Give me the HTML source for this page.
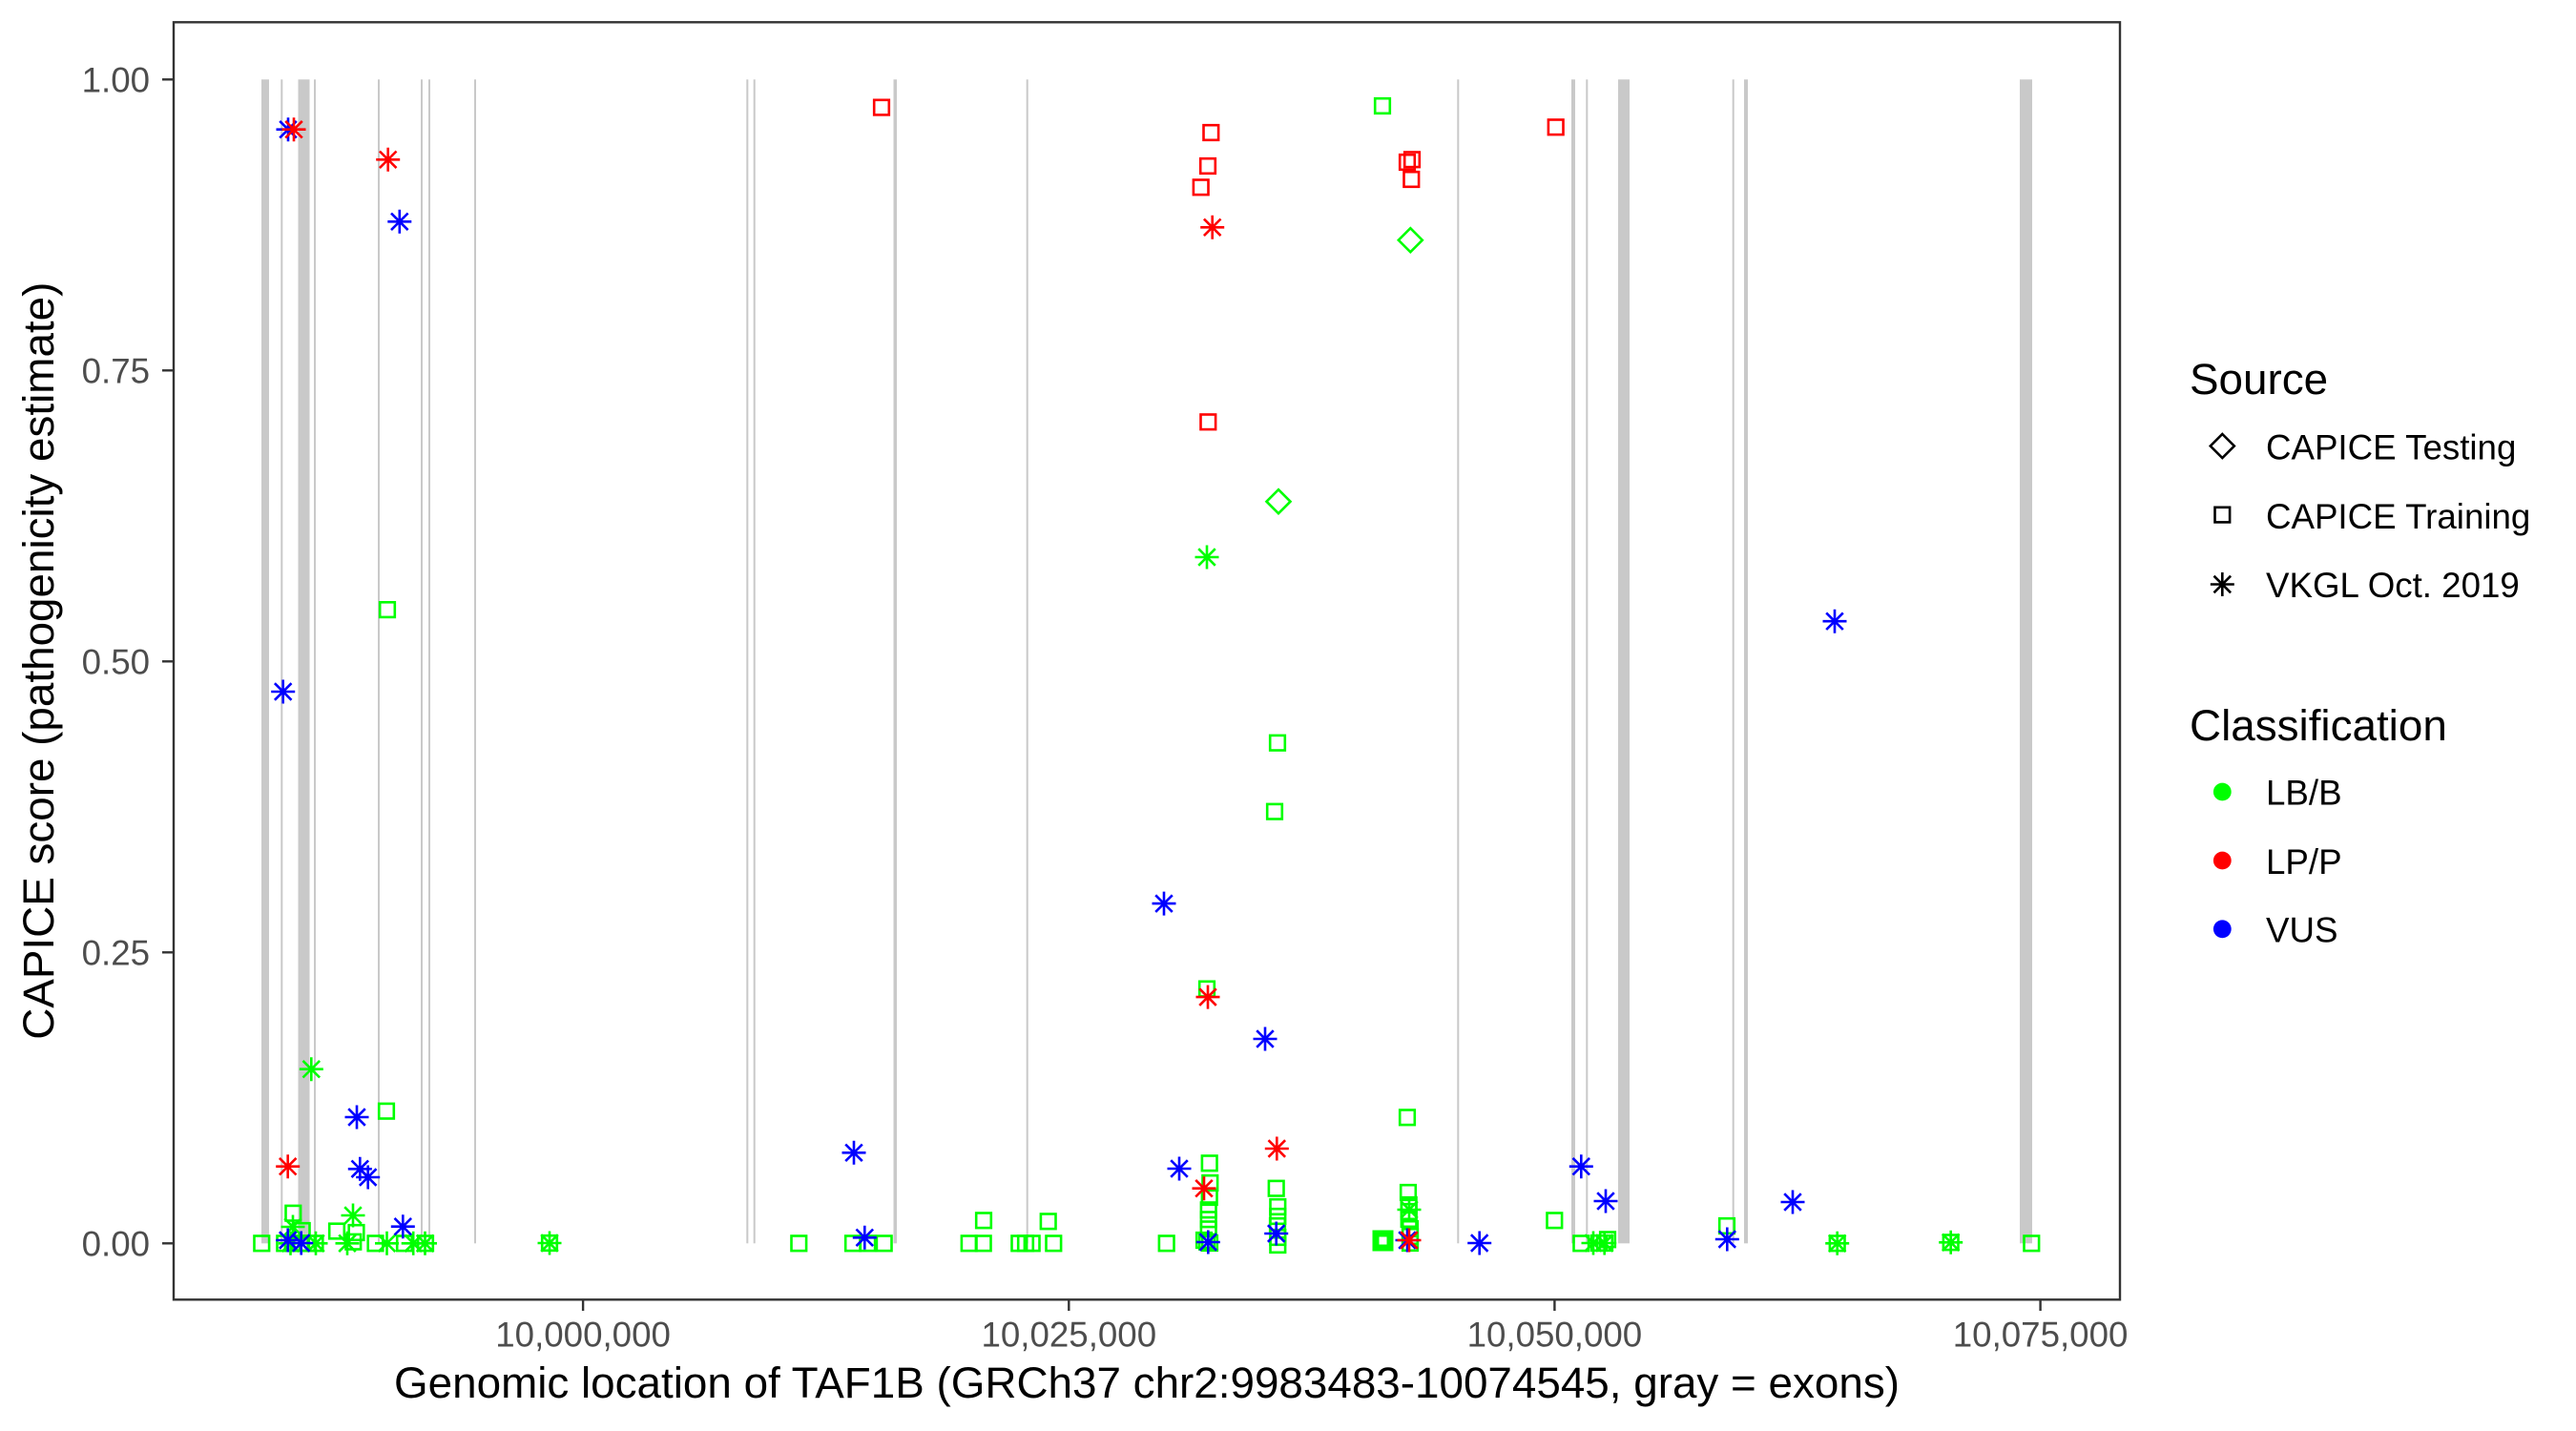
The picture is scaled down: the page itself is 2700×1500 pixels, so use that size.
<!DOCTYPE html>
<html><head><meta charset="utf-8"><style>
html,body{margin:0;padding:0;background:#fff;}
svg{display:block;}
text{font-family:"Liberation Sans",Arial,sans-serif;}
</style></head><body>
<svg width="2700" height="1500" viewBox="0 0 2700 1500" xmlns="http://www.w3.org/2000/svg">
<defs>
<rect id="s" x="-7.8" y="-7.8" width="15.6" height="15.6"/>
<path id="a" d="M-12.5,0H12.5M0,-12.5V12.5M-8.8,-8.8L8.8,8.8M-8.8,8.8L8.8,-8.8"/>
<path id="d" d="M0,-12.5L12.5,0L0,12.5L-12.5,0Z"/>
</defs>
<rect width="2700" height="1500" fill="#fff"/>
<!-- exons -->
<g fill="#c9c9c9">
<rect x="274" y="83.3" width="8" height="1220"/>
<rect x="294.3" y="83.3" width="2" height="1220"/>
<rect x="312.5" y="83.3" width="12" height="1220"/>
<rect x="329" y="83.3" width="2" height="1220"/>
<rect x="396" y="83.3" width="2" height="1220"/>
<rect x="441" y="83.3" width="2" height="1220"/>
<rect x="449" y="83.3" width="2" height="1220"/>
<rect x="497" y="83.3" width="2" height="1220"/>
<rect x="782.3" y="83.3" width="2" height="1220"/>
<rect x="789.7" y="83.3" width="2" height="1220"/>
<rect x="936.5" y="83.3" width="3.5" height="1220"/>
<rect x="1075.7" y="83.3" width="2" height="1220"/>
<rect x="1527.3" y="83.3" width="2" height="1220"/>
<rect x="1647" y="83.3" width="4" height="1220"/>
<rect x="1662.3" y="83.3" width="2" height="1220"/>
<rect x="1696" y="83.3" width="12" height="1220"/>
<rect x="1815.7" y="83.3" width="2" height="1220"/>
<rect x="1828" y="83.3" width="4" height="1220"/>
<rect x="2117" y="83.3" width="13" height="1220"/>
</g>
<!-- green -->
<g fill="none" stroke="#00ff00" stroke-width="2.6">
<use href="#s" x="307.3" y="1271.7"/><use href="#s" x="316.7" y="1290"/><use href="#s" x="353" y="1290.5"/><use href="#s" x="373.5" y="1292"/>
<use href="#s" x="405" y="1164.7"/><use href="#s" x="406" y="639.1"/>
<use href="#s" x="274.3" y="1303.3"/><use href="#s" x="298.3" y="1303.3"/><use href="#s" x="306.7" y="1303.3"/><use href="#s" x="316" y="1303.3"/><use href="#s" x="322" y="1303.3"/><use href="#s" x="330.5" y="1303.3"/><use href="#s" x="370.3" y="1301.7"/><use href="#s" x="393.5" y="1303.3"/><use href="#s" x="424" y="1303.3"/><use href="#s" x="446" y="1303.3"/>
<use href="#s" x="576" y="1303"/>
<use href="#s" x="837.3" y="1303.3"/><use href="#s" x="894" y="1303.3"/><use href="#s" x="909.3" y="1303.3"/><use href="#s" x="926.7" y="1303.3"/><use href="#s" x="1015.7" y="1303.3"/><use href="#s" x="1030.7" y="1303.3"/><use href="#s" x="1068.3" y="1303.3"/><use href="#s" x="1075" y="1303.3"/><use href="#s" x="1081.7" y="1303.3"/><use href="#s" x="1104.3" y="1303.3"/><use href="#s" x="1222.7" y="1303.3"/>
<use href="#s" x="1031" y="1279.3"/><use href="#s" x="1098.7" y="1280.3"/>
<use href="#s" x="1267.7" y="1219.3"/><use href="#s" x="1268.3" y="1240"/><use href="#s" x="1267.7" y="1255"/><use href="#s" x="1266.7" y="1268.3"/><use href="#s" x="1266.7" y="1278.3"/><use href="#s" x="1266.7" y="1288.3"/><use href="#s" x="1265" y="1301.7"/><use href="#s" x="1268" y="1303"/><use href="#s" x="1262" y="1300"/><use href="#s" x="1265" y="1036.6"/>
<use href="#s" x="1337.7" y="1245.7"/><use href="#s" x="1339.3" y="1265"/><use href="#s" x="1339.3" y="1275"/><use href="#s" x="1339" y="1285"/><use href="#s" x="1339.3" y="1297"/><use href="#s" x="1339.3" y="1305"/><use href="#s" x="1339" y="778.7"/><use href="#s" x="1336" y="850.7"/>
<rect x="1442" y="1293" width="15" height="15" stroke-width="7"/>
<use href="#s" x="1476" y="1250"/><use href="#s" x="1476.7" y="1263"/><use href="#s" x="1476.7" y="1270"/><use href="#s" x="1476.7" y="1278"/><use href="#s" x="1478" y="1288"/><use href="#s" x="1478" y="1296"/><use href="#s" x="1478" y="1303"/><use href="#s" x="1475" y="1171.3"/><use href="#s" x="1449" y="111"/>
<use href="#s" x="1629.3" y="1279.3"/><use href="#s" x="1657.3" y="1303.3"/><use href="#s" x="1676" y="1303"/><use href="#s" x="1685" y="1299.3"/><use href="#s" x="1682" y="1303"/><use href="#s" x="1810" y="1285"/><use href="#s" x="1925.7" y="1303.3"/><use href="#s" x="2044.7" y="1302.3"/><use href="#s" x="2129.3" y="1303.3"/>
<use href="#a" x="326.3" y="1120.7"/><use href="#a" x="370" y="1274"/><use href="#a" x="307" y="1286"/>
<use href="#a" x="304.5" y="1303.3"/><use href="#a" x="331" y="1303.3"/><use href="#a" x="364" y="1303.3"/><use href="#a" x="405.5" y="1303.3"/><use href="#a" x="433.2" y="1303.3"/><use href="#a" x="445.5" y="1303.3"/>
<use href="#a" x="576" y="1303"/><use href="#a" x="1265" y="584"/><use href="#a" x="1477" y="1268"/><use href="#a" x="1670" y="1303"/><use href="#a" x="1681.7" y="1303"/><use href="#a" x="1925.7" y="1303.3"/><use href="#a" x="2044.7" y="1302.3"/>
<use href="#d" x="1340" y="525.7"/><use href="#d" x="1478.3" y="251.7"/>
</g>
<!-- blue -->
<g fill="none" stroke="#0000ff" stroke-width="2.6">
<use href="#a" x="302" y="135.7"/><use href="#a" x="418.8" y="232.3"/><use href="#a" x="296.7" y="725"/><use href="#a" x="374" y="1171"/><use href="#a" x="377.3" y="1225.3"/><use href="#a" x="385.7" y="1234"/><use href="#a" x="422.3" y="1285.7"/><use href="#a" x="315.7" y="1303"/><use href="#a" x="301.7" y="1300"/>
<use href="#a" x="895" y="1208.3"/><use href="#a" x="906.3" y="1297.3"/><use href="#a" x="1220" y="947.1"/><use href="#a" x="1326" y="1089"/><use href="#a" x="1236" y="1225"/><use href="#a" x="1266.3" y="1302"/><use href="#a" x="1337.7" y="1293"/><use href="#a" x="1475" y="1300"/><use href="#a" x="1550.7" y="1303"/>
<use href="#a" x="1657.3" y="1222.7"/><use href="#a" x="1683" y="1259"/><use href="#a" x="1810.3" y="1299"/><use href="#a" x="1879" y="1260"/><use href="#a" x="1923" y="651.2"/>
</g>
<!-- red -->
<g fill="none" stroke="#ff0000" stroke-width="2.6">
<use href="#a" x="308" y="135.7"/><use href="#a" x="406.7" y="167.3"/><use href="#a" x="301.7" y="1222.7"/><use href="#a" x="1270.7" y="238.3"/><use href="#a" x="1266" y="1045.1"/><use href="#a" x="1262" y="1245.7"/><use href="#a" x="1338.3" y="1204"/><use href="#a" x="1477" y="1300"/>
<use href="#s" x="924" y="112.6"/><use href="#s" x="1269.3" y="139"/><use href="#s" x="1266" y="174"/><use href="#s" x="1258.7" y="196.3"/><use href="#s" x="1266.3" y="442.3"/><use href="#s" x="1475" y="170"/><use href="#s" x="1480" y="167.3"/><use href="#s" x="1479.3" y="188"/><use href="#s" x="1630.7" y="133.3"/>
</g>
<!-- panel border -->
<rect x="182" y="23.3" width="2040" height="1339" fill="none" stroke="#333333" stroke-width="2.4"/>
<!-- ticks -->
<g stroke="#333333" stroke-width="2.4">
<line x1="170" y1="83.3" x2="182" y2="83.3"/><line x1="170" y1="388.3" x2="182" y2="388.3"/><line x1="170" y1="693.3" x2="182" y2="693.3"/><line x1="170" y1="998.3" x2="182" y2="998.3"/><line x1="170" y1="1303.3" x2="182" y2="1303.3"/>
<line x1="611.1" y1="1362" x2="611.1" y2="1374"/><line x1="1120.3" y1="1362" x2="1120.3" y2="1374"/><line x1="1629.4" y1="1362" x2="1629.4" y2="1374"/><line x1="2138.6" y1="1362" x2="2138.6" y2="1374"/>
</g>
<g font-size="36.7" fill="#4d4d4d" text-anchor="end">
<text x="157" y="96.4">1.00</text><text x="157" y="401.4">0.75</text><text x="157" y="706.4">0.50</text><text x="157" y="1011.4">0.25</text><text x="157" y="1316.4">0.00</text>
</g>
<g font-size="36.7" fill="#4d4d4d" text-anchor="middle">
<text x="611.1" y="1411.7">10,000,000</text><text x="1120.3" y="1411.7">10,025,000</text><text x="1629.4" y="1411.7">10,050,000</text><text x="2138.6" y="1411.7">10,075,000</text>
</g>
<text x="1202" y="1465" font-size="45.8" fill="#000" text-anchor="middle">Genomic location of TAF1B (GRCh37 chr2:9983483-10074545, gray = exons)</text>
<text transform="translate(56,692.7) rotate(-90)" font-size="45.8" fill="#000" text-anchor="middle">CAPICE score (pathogenicity estimate)</text>
<!-- legend -->
<text x="2295" y="413" font-size="45.8" fill="#000">Source</text>
<g fill="none" stroke="#000" stroke-width="2.6">
<use href="#d" x="2329.3" y="467.5"/><use href="#s" x="2329.3" y="539.6"/><use href="#a" x="2329.3" y="612.5"/>
</g>
<g font-size="36.7" fill="#000">
<text x="2375" y="481.7">CAPICE Testing</text><text x="2375" y="554">CAPICE Training</text><text x="2375" y="625.8">VKGL Oct. 2019</text>
</g>
<text x="2295" y="775.8" font-size="45.8" fill="#000">Classification</text>
<circle cx="2329.3" cy="830" r="9.4" fill="#00ff00"/>
<circle cx="2329.3" cy="902" r="9.4" fill="#ff0000"/>
<circle cx="2329.3" cy="973.8" r="9.4" fill="#0000ff"/>
<g font-size="36.7" fill="#000">
<text x="2375" y="843.7">LB/B</text><text x="2375" y="915.8">LP/P</text><text x="2375" y="987.5">VUS</text>
</g>
</svg>
</body></html>
